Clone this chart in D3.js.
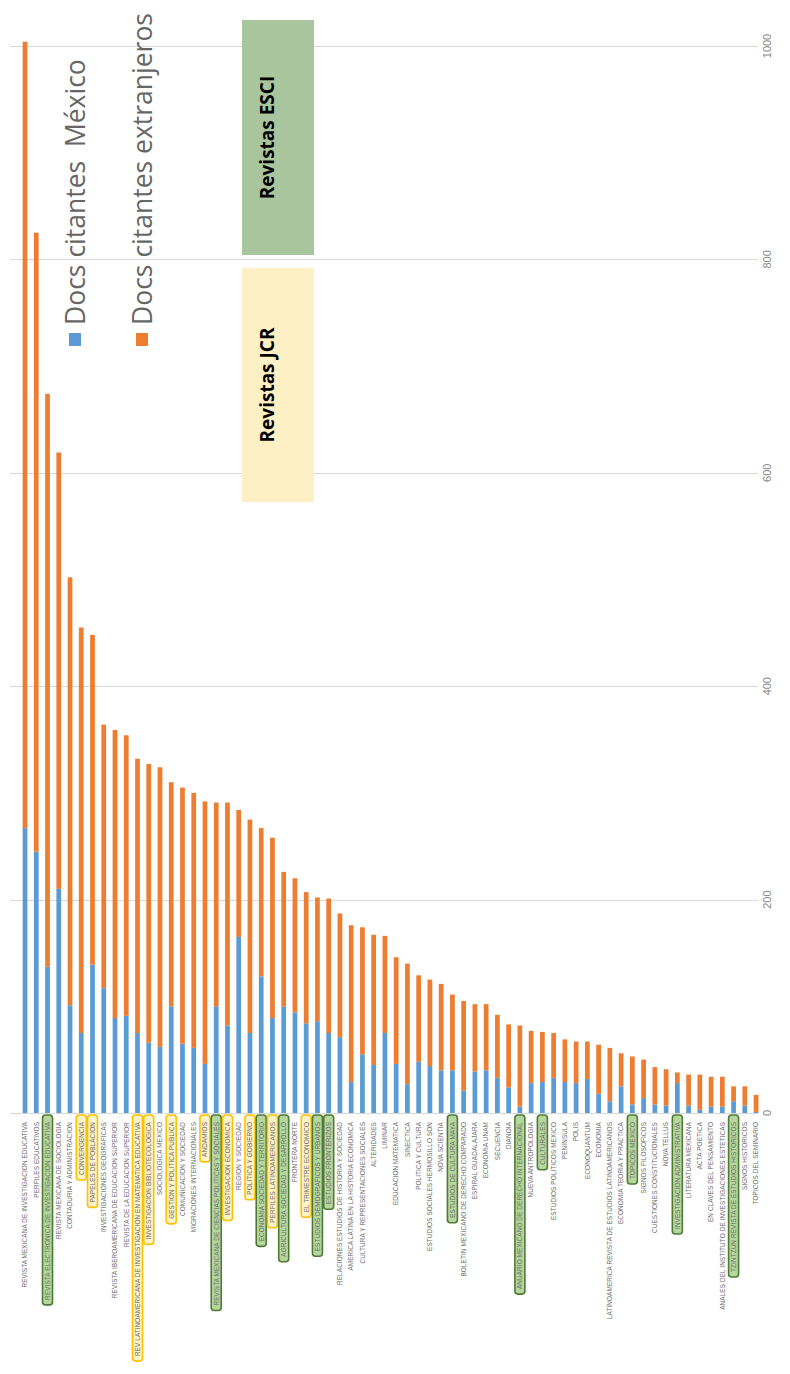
<!DOCTYPE html>
<html><head><meta charset="utf-8">
<script src="https://cdn.jsdelivr.net/npm/d3@7"></script>
<style>body{margin:0;background:#fff}svg{display:block}</style>
</head><body>
<svg id="c" width="790" height="1374"></svg>
<script>
const categories = [
"REVISTA MEXICANA DE INVESTIGACION EDUCATIVA","PERFILES EDUCATIVOS","REVISTA ELECTRONICA DE INVESTIGACION EDUCATIVA",
"REVISTA MEXICANA DE SOCIOLOGIA","CONTADURIA Y ADMINISTRACION","CONVERGENCIA","PAPELES DE POBLACION",
"INVESTIGACIONES GEOGRAFICAS","REVISTA IBEROAMERICANA DE EDUCACION SUPERIOR","REVISTA DE LA EDUCACION SUPERIOR",
"REV LATINOAMERICANA DE INVESTIGACION EN MATEMATICA EDUCATIVA","INVESTIGACION BIBLIOTECOLOGICA","SOCIOLOGICA MEXICO",
"GESTION Y POLITICA PUBLICA","COMUNICACION Y SOCIEDAD","MIGRACIONES INTERNACIONALES","ANDAMIOS",
"REVISTA MEXICANA DE CIENCIAS POLITICAS Y SOCIALES","INVESTIGACION ECONOMICA","REGION Y SOCIEDAD","POLITICA Y GOBIERNO",
"ECONOMIA SOCIEDAD Y TERRITORIO","PERFILES LATINOAMERICANOS","AGRICULTURA SOCIEDAD Y DESARROLLO","FRONTERA NORTE",
"EL TRIMESTRE ECONOMICO","ESTUDIOS DEMOGRAFICOS Y URBANOS","ESTUDIOS FRONTERIZOS","RELACIONES ESTUDIOS DE HISTORIA Y SOCIEDAD",
"AMERICA LATINA EN LA HISTORIA ECONOMICA","CULTURA Y REPRESENTACIONES SOCIALES","ALTERIDADES","LIMINAR",
"EDUCACION MATEMATICA","SINECTICA","POLITICA Y CULTURA","ESTUDIOS SOCIALES HERMOSILLO SON","NOVA SCIENTIA",
"ESTUDIOS DE CULTURA MAYA","BOLETIN MEXICANO DE DERECHO COMPARADO","ESPIRAL GUADALAJARA","ECONOMIA UNAM","SECUENCIA",
"DIANOIA","ANUARIO MEXICANO DE DERECHO INTERNACIONAL","NUEVA ANTROPOLOGIA","CULTURALES","ESTUDIOS POLITICOS MEXICO",
"PENINSULA","POLIS","ECONOQUANTUM","ECONOMIA","LATINOAMERICA REVISTA DE ESTUDIOS LATINOAMERICANOS",
"ECONOMIA TEORIA Y PRACTICA","TOPICOS MEXICO","SIGNOS FILOSOFICOS","CUESTIONES CONSTITUCIONALES","NOVA TELLUS",
"INVESTIGACION ADMINISTRATIVA","LITERATURA MEXICANA","ACTA POETICA","EN CLAVES DEL PENSAMIENTO",
"ANALES DEL INSTITUTO DE INVESTIGACIONES ESTETICAS","TZINTZUN REVISTA DE ESTUDIOS HISTORICOS","SIGNOS HISTORICOS",
"TOPICOS DEL SEMINARIO"];
const mexico = [267,245,137,210,101,75,139,117,89,91,75,66,62,100,65,61,46,100,82,165,75,128,89,100,94,84,86,75,71,29,55,45,75,46,27,48,44,40,40,21,39,40,33,24,6,28,29,33,29,28,32,18,11,25,8,14,8,7,28,7,3,6,6,11,7,1];
const extranjeros = [737,580,537,409,401,380,309,247,270,263,257,261,262,210,240,239,246,191,209,119,200,139,169,126,126,123,116,126,116,147,119,122,91,100,113,81,81,81,71,84,63,62,59,59,76,49,47,42,40,39,35,46,50,31,45,36,35,34,10,29,33,28,28,14,18,16];
const seriesNames = ["Docs citantes  México","Docs citantes extranjeros"];
const tickValues = [0,200,400,600,800,1000];
const esciJournals = ["REVISTA ELECTRONICA DE INVESTIGACION EDUCATIVA","REVISTA MEXICANA DE CIENCIAS POLITICAS Y SOCIALES",
"ECONOMIA SOCIEDAD Y TERRITORIO","AGRICULTURA SOCIEDAD Y DESARROLLO","ESTUDIOS DEMOGRAFICOS Y URBANOS","ESTUDIOS FRONTERIZOS",
"ESTUDIOS DE CULTURA MAYA","ANUARIO MEXICANO DE DERECHO INTERNACIONAL","CULTURALES","TOPICOS MEXICO",
"INVESTIGACION ADMINISTRATIVA","TZINTZUN REVISTA DE ESTUDIOS HISTORICOS"];
const jcrJournals = ["CONVERGENCIA","PAPELES DE POBLACION","REV LATINOAMERICANA DE INVESTIGACION EN MATEMATICA EDUCATIVA",
"INVESTIGACION BIBLIOTECOLOGICA","GESTION Y POLITICA PUBLICA","ANDAMIOS","INVESTIGACION ECONOMICA","POLITICA Y GOBIERNO",
"PERFILES LATINOAMERICANOS","EL TRIMESTRE ECONOMICO"];
const annotationLabels = ["Revistas ESCI","Revistas JCR"];

const colors = ["#5b9bd5","#ed7d31"];
const svg = d3.select("#c");

const rows = categories.map((c,i)=>({cat:c, mexico:mexico[i], extranjeros:extranjeros[i]}));
const x = d3.scaleBand().domain(categories).range([19.4,761.7]).paddingInner(0.58).paddingOuter(0.29);
const y = d3.scaleLinear().domain([0,1000]).range([1113,46]);

// gridlines
svg.append("g").selectAll("line").data(tickValues).join("line")
  .attr("x1",10).attr("x2",758).attr("y1",d=>Math.round(y(d))+0.5).attr("y2",d=>Math.round(y(d))+0.5)
  .attr("stroke","#d9d9d9").attr("stroke-width",1);
svg.append("g").selectAll("text").data(tickValues).join("text")
  .attr("transform",d=>`translate(767,${y(d)}) rotate(-90)`)
  .attr("text-anchor","middle").attr("dy","0.35em")
  .attr("font-family","Liberation Sans, Arial, sans-serif").attr("font-size",11).attr("fill","#8a8a8a")
  .text(d=>d);

// annotation boxes
const ann = [{label:annotationLabels[0], y0:20, y1:255, fill:"#a9c59d"},{label:annotationLabels[1], y0:268, y1:502, fill:"#fdf0c4"}];
ann.forEach(a=>{
  svg.append("rect").attr("x",242).attr("y",a.y0).attr("width",72).attr("height",a.y1-a.y0).attr("fill",a.fill);
  svg.append("text").attr("transform",`translate(267,${(a.y0+a.y1)/2}) rotate(-90)`)
    .attr("text-anchor","middle").attr("dy","0.35em")
    .attr("font-family","Open Sans, DejaVu Sans, sans-serif").attr("font-weight","bold").attr("font-size",19).attr("fill","#000")
    .text(a.label);
});

// legend
const legend = [{name:seriesNames[0], cx:75, color:colors[0]},{name:seriesNames[1], cx:142, color:colors[1]}];
legend.forEach(l=>{
  svg.append("rect").attr("x",l.cx-6).attr("y",333).attr("width",12).attr("height",13).attr("fill",l.color);
  svg.append("text").attr("transform",`translate(${l.cx},325) rotate(-90)`)
    .attr("text-anchor","start").attr("dy","0.36em")
    .attr("font-family","Open Sans, Liberation Sans, sans-serif").attr("font-size",26.5).attr("fill","#666666")
    .style("white-space","pre")
    .text(l.name);
});

// bars
const stack = d3.stack().keys(["mexico","extranjeros"])(rows);
svg.append("g").selectAll("g").data(stack).join("g").attr("fill",(d,i)=>colors[i])
  .selectAll("rect").data(d=>d).join("rect")
  .attr("x",d=>x(d.data.cat)).attr("width",x.bandwidth())
  .attr("y",d=>y(d[1])).attr("height",d=>y(d[0])-y(d[1]));

// category labels with tag boxes
const lg = svg.append("g");
categories.forEach(c=>{
  const cx = x(c)+x.bandwidth()/2;
  const g = lg.append("g");
  const t = g.append("text").attr("transform",`translate(${cx},1122) rotate(-90)`)
    .attr("text-anchor","end").attr("dy","0.36em")
    .attr("font-family","Liberation Sans, Arial, sans-serif").attr("font-size",6.4).attr("letter-spacing",0.1)
    .attr("fill","#6b6b6b")
    .text(c);
  const len = t.node().getComputedTextLength();
  let fill=null, stroke=null;
  if (esciJournals.includes(c)) {fill="#b5d69c"; stroke="#4f7a36";}
  else if (jcrJournals.includes(c)) {fill="#fff3c8"; stroke="#ffc000";}
  if (fill) {
    g.insert("rect","text").attr("x",cx-5).attr("y",1115).attr("width",10).attr("height",len+12)
      .attr("rx",3).attr("fill",fill).attr("stroke",stroke).attr("stroke-width",1.6);
  }
});
// baseline
svg.append("line").attr("x1",10).attr("x2",758).attr("y1",1113.5).attr("y2",1113.5).attr("stroke","#d9d9d9");
</script>
</body></html>
